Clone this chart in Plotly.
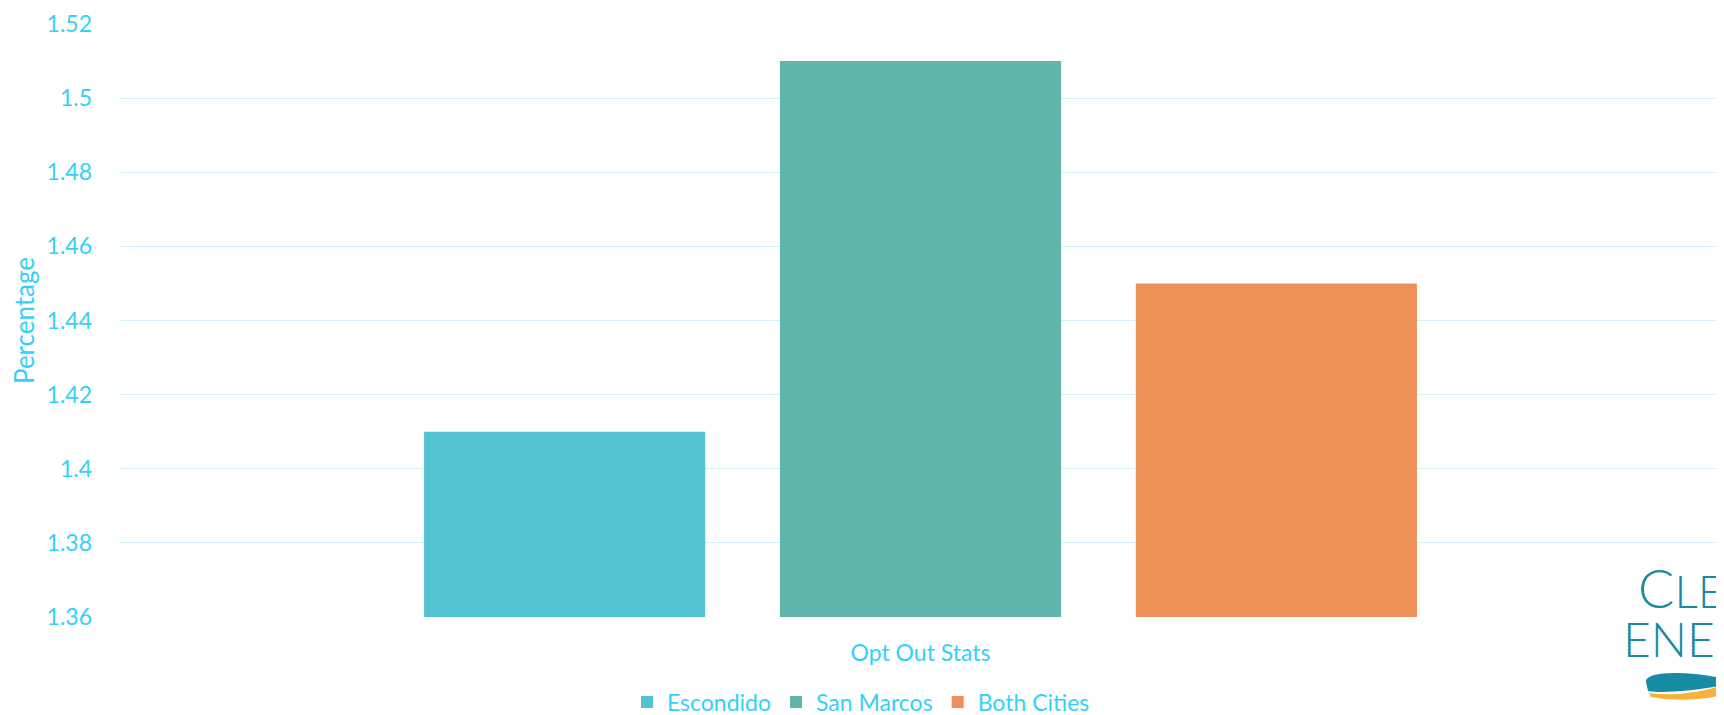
import plotly.graph_objects as go

categories = ["Opt Out Stats"]
series_names = ["Escondido", "San Marcos", "Both Cities"]
series_values = [[1.41], [1.51], [1.45]]
series_colors = ["#52c3d1", "#5fb5a9", "#ec9057"]
y_ticks = [1.36, 1.38, 1.40, 1.42, 1.44, 1.46, 1.48, 1.50, 1.52]
y_tick_labels = ["1.36", "1.38", "1.4", "1.42", "1.44", "1.46", "1.48", "1.5", "1.52"]

# page body has an 8px default margin, so the figure starts at (8, 8)
OFF = 8
W, H = 1724 - OFF, 715 - OFF
ML, MR, MT, MB = 119 - OFF, 2, 24 - OFF, 98
PW, PH = W - ML - MR, H - MT - MB

TEXT = "#35d0fa"
GRID = "#d2f3fb"
FONT = "Lato, 'Open Sans', sans-serif"


def px(x, y):
    # page pixel -> paper coordinate
    x -= OFF
    y -= OFF
    return (x - ML) / PW, (H - MB - y) / PH


fig = go.Figure()
for name, vals, col in zip(series_names, series_values, series_colors):
    fig.add_trace(go.Bar(x=categories, y=vals, name=name, marker=dict(color=col, line=dict(width=0))))


def path(points):
    s = ""
    for cmd, pts in points:
        s += cmd + " " + " ".join(f"{px(a, b)[0]:.5f},{px(a, b)[1]:.5f}" for a, b in pts) + " "
    return s + "Z"

teal = path([("M", [(1646, 682)]), ("C", [(1644, 671), (1690, 670), (1730, 680)]),
             ("L", [(1730, 684)]), ("C", [(1700, 690), (1665, 694), (1648, 691)])])
orange = path([("M", [(1649, 693)]), ("C", [(1680, 697), (1708, 690), (1730, 683)]),
               ("L", [(1730, 693)]), ("C", [(1705, 701), (1670, 701), (1651, 697)])])

fig.update_layout(
    width=W, height=H,
    margin=dict(l=ML, r=MR, t=MT, b=MB, autoexpand=False),
    paper_bgcolor="white", plot_bgcolor="white",
    font=dict(family=FONT, color=TEXT, size=23),
    barmode="group", bargap=0.334, bargroupgap=0.21,
    showlegend=True,
    legend=dict(orientation="h", x=px(861, 0)[0], xanchor="center", y=px(0, 702)[1], yanchor="middle",
                font=dict(size=23, color=TEXT), itemwidth=30, traceorder="normal"),
    xaxis=dict(showgrid=False, showline=False, zeroline=False, ticks="",
               ticklabelstandoff=20, tickfont=dict(size=23, color=TEXT)),
    yaxis=dict(range=[1.36, 1.52], tickvals=y_ticks, ticktext=y_tick_labels,
               showgrid=True, gridcolor=GRID, gridwidth=1.3, zeroline=False, showline=False,
               ticks="", ticklabelstandoff=26, tickfont=dict(size=23, color=TEXT),
               title=dict(text="Percentage", font=dict(size=26, color=TEXT), standoff=12)),
    shapes=[
        dict(type="path", xref="paper", yref="paper", path=teal, fillcolor="#178da5", line=dict(width=0), layer="above"),
        dict(type="path", xref="paper", yref="paper", path=orange, fillcolor="#f6b23a", line=dict(width=0), layer="above"),
    ],
)

cx, cy = px(1636, 587)
ex, ey = px(1621, 638)
fig.add_annotation(xref="paper", yref="paper", x=cx, y=cy, xanchor="left", yanchor="middle",
                   showarrow=False, align="left",
                   text="C<span style='font-size:46px'>LEAN</span>",
                   font=dict(family=FONT, size=54, color="#1a8aa0", weight=300))
fig.add_annotation(xref="paper", yref="paper", x=ex, y=ey, xanchor="left", yanchor="middle",
                   showarrow=False, align="left",
                   text="ENERGY",
                   font=dict(family=FONT, size=48, color="#1a8aa0", weight=300))

fig.write_html("out.html")
